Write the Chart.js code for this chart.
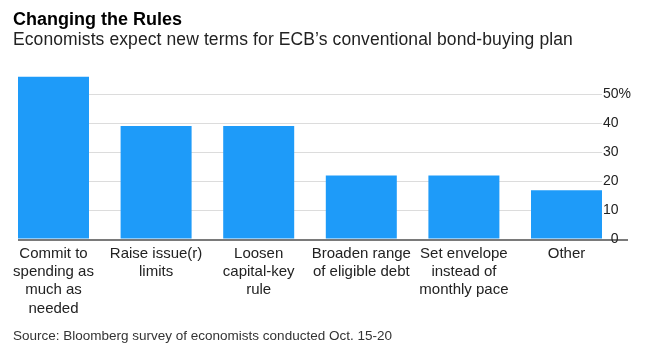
<!DOCTYPE html>
<html>
<head>
<meta charset="utf-8">
<script src="https://cdn.jsdelivr.net/npm/chart.js@4.4.1/dist/chart.umd.min.js"></script>
<style>
  html, body { margin: 0; padding: 0; background: #fff; }
  #wrap { position: relative; width: 645px; height: 363px; overflow: hidden; font-family: "Liberation Sans", Arial, sans-serif; }
  #chart { position: absolute; left: 0; top: 0; }
  .txt { position: absolute; left: 13px; white-space: nowrap; }
  #title { top: 10px; font-size: 18px; line-height: 18px; font-weight: bold; color: #000; }
  #subtitle { top: 31px; font-size: 17.5px; line-height: 17.5px; letter-spacing: 0.1px; color: #222; }
  #source { top: 328.5px; font-size: 13.5px; line-height: 13.5px; color: #333; }
</style>
</head>
<body>
<div id="wrap">
  <canvas id="chart" width="645" height="363"></canvas>
  <div class="txt" id="title">Changing the Rules</div>
  <div class="txt" id="subtitle">Economists expect new terms for ECB’s conventional bond-buying plan</div>
  <div class="txt" id="source">Source: Bloomberg survey of economists conducted Oct. 15-20</div>
</div>
<script>
const categories = [
  ["Commit to", "spending as", "much as", "needed"],
  ["Raise issue(r)", "limits"],
  ["Loosen", "capital-key", "rule"],
  ["Broaden range", "of eligible debt"],
  ["Set envelope", "instead of", "monthly pace"],
  ["Other"]
];
const shares = [56, 39, 39, 22, 22, 17];
const yTickValues = [0, 10, 20, 30, 40, 50];

const barColor = '#1e9bf9';
const halfBar = 0.346;

new Chart(document.getElementById('chart'), {
  type: 'bar',
  data: {
    datasets: [{
      data: shares.map((v, i) => ({ x: i, y: v })),
      backgroundColor: barColor,
      borderWidth: 0,
      categoryPercentage: 1,
      barPercentage: 0.692
    }]
  },
  options: {
    responsive: false,
    animation: false,
    layout: { padding: { top: 65, left: 18, right: 0, bottom: 0 } },
    plugins: { legend: { display: false }, tooltip: { enabled: false } },
    scales: {
      x: {
        type: 'linear',
        offset: false,
        min: -halfBar,
        max: categories.length - 1 + halfBar,
        grid: { display: false, drawTicks: false, offset: false },
        border: { display: false },
        afterBuildTicks: s => { s.ticks = categories.map((c, i) => ({ value: i })); },
        afterFit: s => { s.height = 363 - 65 - 174.6; },
        ticks: {
          autoSkip: false,
          maxRotation: 0,
          padding: 5,
          color: '#222',
          font: { family: '"Liberation Sans", Arial, sans-serif', size: 15, lineHeight: 1.22 },
          callback: v => categories[v]
        }
      },
      y: {
        position: 'right',
        min: 0,
        max: 60,
        afterBuildTicks: s => { s.ticks = yTickValues.map(v => ({ value: v })); },
        afterFit: s => { s.width = 43; },
        border: { display: false },
        grid: {
          drawTicks: true,
          tickLength: 26,
          color: c => c.tick && c.tick.value === 0 ? '#7a7a7a' : '#dcdcdc',
          lineWidth: c => c.tick && c.tick.value === 0 ? 2 : 1,
          tickColor: c => c.tick && c.tick.value === 0 ? '#7a7a7a' : 'rgba(0,0,0,0)',
          tickWidth: c => c.tick && c.tick.value === 0 ? 2 : 1
        },
        ticks: {
          padding: -25,
          crossAlign: 'near',
          color: '#222',
          font: { family: '"Liberation Sans", Arial, sans-serif', size: 14 },
          callback: v => v === 50 ? v + '%' : (v < 10 ? '\u2007' + v : '' + v)
        }
      }
    }
  }
});
</script>
</body>
</html>
